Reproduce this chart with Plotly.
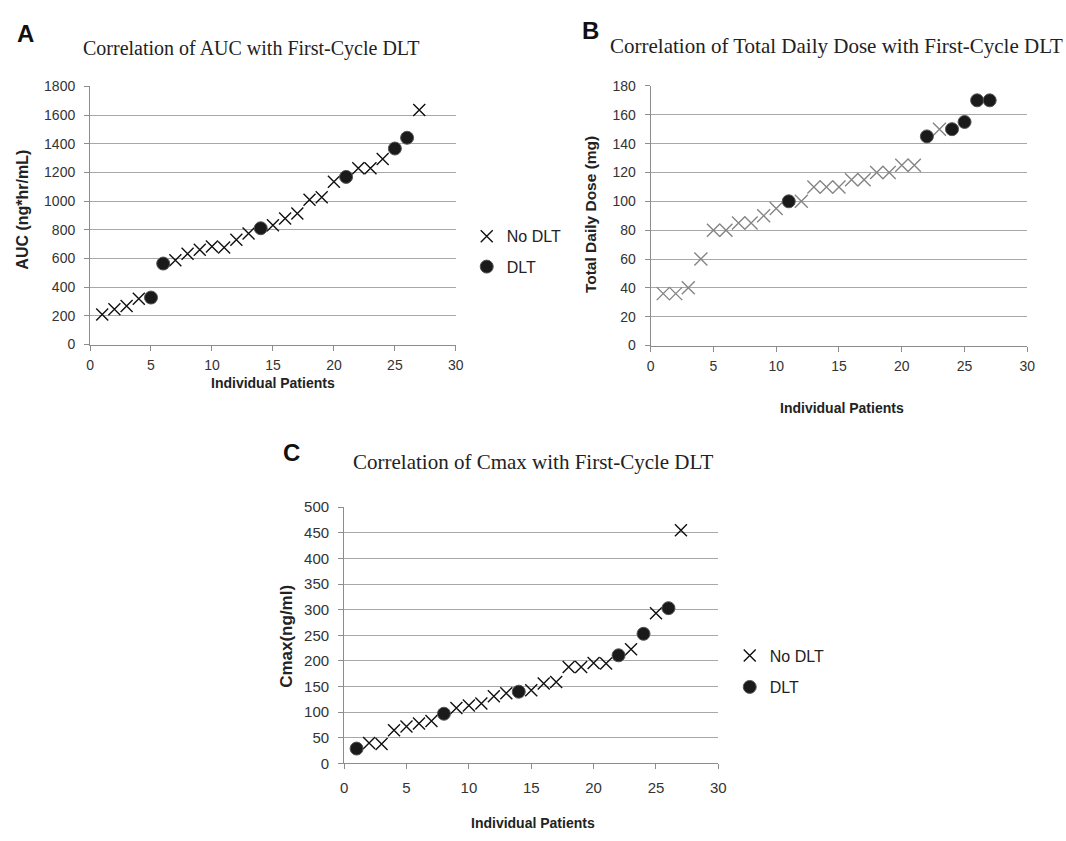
import plotly.graph_objects as go

patients = list(range(1, 28))

# Panel A: AUC (ng*hr/mL)
auc = [210, 246, 269, 320, 328, 565, 588, 633, 661, 683, 677, 731, 775, 811, 832,
       879, 914, 1009, 1028, 1135, 1169, 1230, 1230, 1294, 1367, 1442, 1636]
auc_dlt = [0, 0, 0, 0, 1, 1, 0, 0, 0, 0, 0, 0, 0, 1, 0, 0, 0, 0, 0, 0, 1, 0, 0, 0, 1, 1, 0]

# Panel B: Total daily dose (mg)
dose = [36, 36, 40, 60, 80, 80, 85, 85, 90, 95, 100, 100, 110, 110, 110,
        115, 115, 120, 120, 125, 125, 145, 150, 150, 155, 170, 170]
dose_dlt = [0, 0, 0, 0, 0, 0, 0, 0, 0, 0, 1, 0, 0, 0, 0, 0, 0, 0, 0, 0, 0, 1, 0, 1, 1, 1, 1]

# Panel C: Cmax (ng/ml)
cmax = [29, 40, 38, 65, 72, 78, 83, 97, 108, 113, 117, 131, 137, 140, 143,
        156, 159, 188, 188, 196, 195, 211, 223, 253, 293, 303, 455]
cmax_dlt = [1, 0, 0, 0, 0, 0, 0, 1, 0, 0, 0, 0, 0, 1, 0, 0, 0, 0, 0, 0, 0, 1, 0, 1, 0, 1, 0]

W, H = 1066, 841
SANS = "Arial, Liberation Sans, sans-serif"
SERIF = "Times New Roman, Liberation Serif, serif"
GRID = "#a8a8a8"
AXIS = "#8c8c8c"


def px(x):
    return x / W


def py(y):
    return 1 - y / H


def split(vals, flags, want):
    xs = [p for p, f in zip(patients, flags) if f == want]
    ys = [v for v, f in zip(vals, flags) if f == want]
    return xs, ys


fig = go.Figure()

panels = [
    (auc, auc_dlt, "x", "y", "#111111", 12, ("legend", "legend2")),
    (dose, dose_dlt, "x2", "y2", "#858585", 13, (None, None)),
    (cmax, cmax_dlt, "x3", "y3", "#111111", 12, ("legend3", "legend4")),
]

for vals, flags, xa, ya, xcol, xsize, legs in panels:
    xs, ys = split(vals, flags, 0)
    fig.add_trace(go.Scatter(
        x=xs, y=ys, mode="markers", name="No DLT", xaxis=xa, yaxis=ya,
        marker=dict(symbol="x-thin-open", size=xsize, color=xcol,
                    line=dict(width=1.4, color=xcol)),
        showlegend=legs[0] is not None, legend=legs[0] or "legend"))
    xs, ys = split(vals, flags, 1)
    fig.add_trace(go.Scatter(
        x=xs, y=ys, mode="markers", name="DLT", xaxis=xa, yaxis=ya,
        marker=dict(symbol="circle", size=13, color="#1a1a1a",
                    line=dict(width=1, color="#555555")),
        showlegend=legs[1] is not None, legend=legs[1] or "legend"))


def xaxis_style(fs, standoff):
    return dict(showgrid=False, showline=True, linecolor=AXIS, linewidth=1,
                ticks="outside", ticklen=5, tickcolor=AXIS, ticklabelstandoff=standoff,
                tickfont=dict(family=SANS, size=fs, color="#333333"),
                zeroline=False, fixedrange=True)


def yaxis_style(fs):
    return dict(showgrid=True, gridcolor=GRID, gridwidth=1, showline=True,
                linecolor=AXIS, linewidth=1, ticks="outside", ticklen=5,
                tickcolor=AXIS, ticklabelstandoff=6,
                tickfont=dict(family=SANS, size=fs, color="#333333"),
                zeroline=False, fixedrange=True)


dA = dict(x0=87, x1=457, y0=79, y1=342.5)
dB = dict(x0=654, x1=1035, y0=78.5, y1=343.5)
dC = dict(x0=344, x1=722.5, y0=508.5, y1=770)

fig.update_layout(
    xaxis=dict(domain=[px(dA["x0"]), px(dA["x1"])], anchor="y", range=[0, 30], dtick=5, **xaxis_style(14, 3)),
    yaxis=dict(domain=[py(dA["y1"]), py(dA["y0"])], anchor="x", range=[0, 1800], dtick=200, **yaxis_style(14)),
    xaxis2=dict(domain=[px(dB["x0"]), px(dB["x1"])], anchor="y2", range=[0, 30], dtick=5, **xaxis_style(14, 3)),
    yaxis2=dict(domain=[py(dB["y1"]), py(dB["y0"])], anchor="x2", range=[0, 180], dtick=20, **yaxis_style(14)),
    xaxis3=dict(domain=[px(dC["x0"]), px(dC["x1"])], anchor="y3", range=[0, 30], dtick=5, **xaxis_style(15, 6)),
    yaxis3=dict(domain=[py(dC["y1"]), py(dC["y0"])], anchor="x3", range=[0, 500], dtick=50, **yaxis_style(15)),
)

leg_common = dict(font=dict(family=SANS, size=16, color="#222222"), bgcolor="rgba(0,0,0,0)",
                  xanchor="left", yanchor="middle", itemwidth=30, borderwidth=0)
fig.update_layout(
    legend=dict(x=px(468), y=py(232), **leg_common),
    legend2=dict(x=px(468), y=py(263), **leg_common),
    legend3=dict(x=px(734), y=py(660), **leg_common),
    legend4=dict(x=px(734), y=py(692), **leg_common),
)

annotations = []


def ann(text, x, y, size, family, bold=False, angle=0, color="#222222", xanchor="center"):
    annotations.append(dict(
        text=f"<b>{text}</b>" if bold else text, x=px(x), y=py(y), xref="paper", yref="paper",
        showarrow=False, textangle=angle, xanchor=xanchor, yanchor="middle",
        font=dict(family=family, size=size, color=color)))


ann("A", 22, 25, 24, SANS, bold=True, color="#111111")
ann("B", 593, 22, 24, SANS, bold=True, color="#111111")
ann("C", 291, 453, 24, SANS, bold=True, color="#111111")

ann("Correlation of AUC with First-Cycle DLT", 78, 40, 20, SERIF, xanchor="left")
ann("Correlation of Total Daily Dose with First-Cycle DLT", 611, 38, 21, SERIF, xanchor="left")
ann("Correlation of Cmax with First-Cycle DLT", 351, 462, 21, SERIF, xanchor="left")

ann("AUC (ng*hr/mL)", 19, 205, 16, SANS, bold=True, angle=-90)
ann("Total Daily Dose (mg)", 593, 210, 15.5, SANS, bold=True, angle=-90)
ann("Cmax(ng/ml)", 285, 640, 17, SANS, bold=True, angle=-90)
ann("Individual Patients", 272, 382, 14, SANS, bold=True)
ann("Individual Patients", 848, 407, 14, SANS, bold=True)
ann("Individual Patients", 535, 831, 14, SANS, bold=True)

fig.update_layout(
    annotations=annotations,
    width=W, height=H, autosize=False,
    margin=dict(l=0, r=0, t=0, b=0),
    paper_bgcolor="white", plot_bgcolor="white",
)

fig.write_html("out.html", config={"displayModeBar": False},
               post_script="document.body.style.margin='0';document.body.style.padding='0';"
                           "document.body.style.overflow='hidden';")
